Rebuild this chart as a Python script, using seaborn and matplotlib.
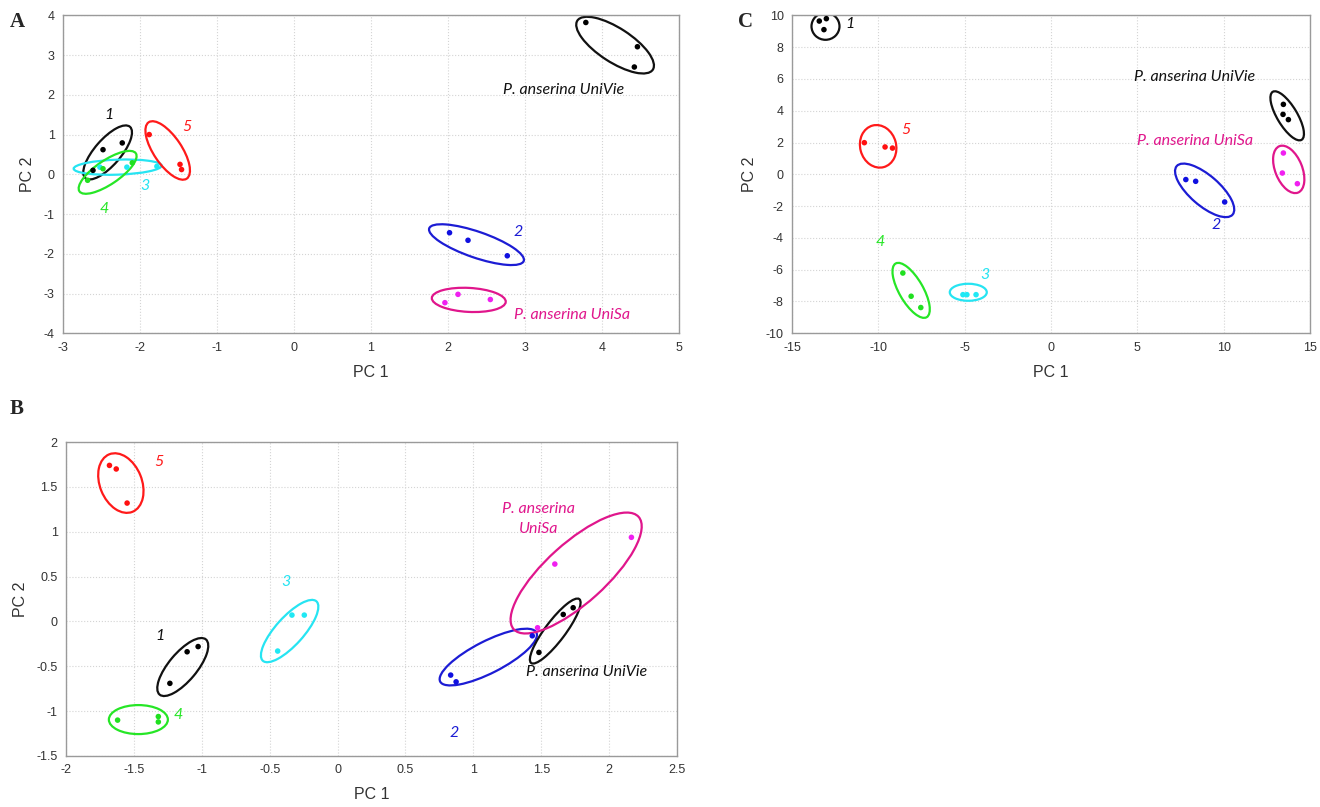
import pandas as pd
import numpy as np
import matplotlib
matplotlib.use("Agg")
import matplotlib.pyplot as plt
import matplotlib.transforms as mtransforms
from matplotlib.patches import Ellipse
import seaborn as sns

# groups in plotting order (3 replicates each)
groups = ['1', '2', '3', '4', '5', 'UniVie', 'UniSa']

# panel A scores
a_pc1 = [-2.48, -2.23, -2.61,  2.02, 2.26, 2.77,  -2.52, -2.17, -1.78,
         -2.68, -2.48, -2.10,  -1.88, -1.48, -1.46,  3.79, 4.46, 4.42,
         1.96, 2.13, 2.55]
a_pc2 = [0.62, 0.79, 0.10,  -1.47, -1.66, -2.05,  0.18, 0.18, 0.20,
         -0.15, 0.14, 0.29,  1.00, 0.25, 0.12,  3.82, 3.21, 2.70,
         -3.23, -3.02, -3.15]

# panel B scores
b_pc1 = [-1.108, -1.027, -1.235,  0.833, 0.873, 1.434,  -0.336, -0.245, -0.441,
         -1.62, -1.32, -1.32,  -1.68, -1.63, -1.55,  1.735, 1.662, 1.483,
         2.164, 1.60, 1.473]
b_pc2 = [-0.338, -0.28, -0.69,  -0.598, -0.673, -0.16,  0.071, 0.071, -0.33,
         -1.10, -1.06, -1.12,  1.74, 1.70, 1.32,  0.153, 0.078, -0.345,
         0.938, 0.64, -0.07]

# panel C scores
c_pc1 = [-13.42, -13.01, -13.15,  7.81, 8.38, 10.06,  -5.10, -4.87, -4.34,
         -8.58, -8.10, -7.54,  -10.81, -9.61, -9.18,  13.46, 13.44, 13.75,
         13.46, 13.40, 14.27]
c_pc2 = [9.64, 9.79, 9.10,  -0.33, -0.44, -1.74,  -7.57, -7.57, -7.57,
         -6.21, -7.67, -8.38,  1.99, 1.72, 1.65,  4.40, 3.77, 3.44,
         1.34, 0.08, -0.59]

# ellipse centres (data units) per group, same order as groups
a_ell_x = [-2.42, 2.37, -2.29, -2.42, -1.64, 4.17, 2.27]
a_ell_y = [0.55, -1.77, 0.18, 0.05, 0.60, 3.25, -3.16]
b_ell_x = [-1.14, 1.11, -0.353, -1.467, -1.596, 1.603, 1.757]
b_ell_y = [-0.508, -0.397, -0.107, -1.094, 1.543, -0.107, 0.54]
c_ell_x = [-13.06, 8.90, -4.79, -8.10, -10.01, 13.68, 13.77]
c_ell_y = [9.31, -1.01, -7.42, -7.30, 1.76, 3.68, 0.31]
# ellipse shape on screen: long axis, short axis (px), angle (deg)
a_ell_shape = [(68, 26, 49), (100, 26, -19), (88, 15, 2), (68, 24, 34),
               (68, 28, -56), (90, 34, -33), (74, 24, -3)]
b_ell_shape = [(72, 28, 50), (108, 32, 27), (80, 28, 48), (59, 29, 0),
               (62, 42, -68), (80, 20, 53), (168, 60, 42)]
c_ell_shape = [(28, 27, 0), (74, 30, -41), (37, 17, 0), (62, 24, -60),
               (43, 36, -75), (56, 20, -59), (50, 27, -68)]

# group labels: text, x, y, horizontal alignment
a_labels = [('1', -2.40, 1.48, 'center'), ('5', -1.39, 1.18, 'center'),
            ('3', -1.94, -0.30, 'center'), ('4', -2.47, -0.88, 'center'),
            ('2', 2.91, -1.46, 'center'),
            ('P. anserina UniSa', 2.86, -3.55, 'left'),
            ('P. anserina UniVie', 2.71, 2.11, 'left')]
b_labels = [('5', -1.316, 1.777, 'center'), ('3', -0.382, 0.44, 'center'),
            ('1', -1.309, -0.163, 'center'), ('4', -1.176, -1.043, 'center'),
            ('2', 0.86, -1.244, 'center'),
            ('P. anserina\nUniSa', 1.478, 1.142, 'center'),
            ('P. anserina UniVie', 1.39, -0.564, 'left')]
c_labels = [('1', -11.64, 9.43, 'center'), ('5', -8.39, 2.77, 'center'),
            ('2', 9.54, -3.21, 'center'), ('4', -9.90, -4.28, 'center'),
            ('3', -3.81, -6.35, 'center'),
            ('P. anserina UniVie', 4.78, 6.10, 'left'),
            ('P. anserina UniSa', 5.01, 2.08, 'left')]

line_col = {'1': '#111111', '2': '#1c1cd4', '3': '#26e4f2', '4': '#26e626',
            '5': '#ff1a1a', 'UniVie': '#111111', 'UniSa': '#e0168c'}
dot_col = {'1': '#000000', '2': '#1010e0', '3': '#20e8f4', '4': '#20e020',
           '5': '#ff1010', 'UniVie': '#000000', 'UniSa': '#f020f0'}
label_col = {'1': '#111111', '2': '#1c1cd4', '3': '#26e4f2', '4': '#26e626',
             '5': '#ff1a1a', 'P. anserina UniVie': '#111111',
             'P. anserina UniSa': '#e0168c', 'P. anserina\nUniSa': '#e0168c'}

sns.set_theme(style="white")
plt.rcParams['font.family'] = ['Liberation Sans', 'DejaVu Sans']

fig = plt.figure(figsize=(13.2, 8.07), dpi=100)


def panel(rect, pc1, pc2, ell_x, ell_y, ell_shape, labels,
          xlim, ylim, xticks, yticks, letter, letter_pos):
    ax = fig.add_axes(rect)
    grp = [g for g in groups for _ in range(3)]
    df = pd.DataFrame({'PC 1': pc1, 'PC 2': pc2, 'group': grp})
    sns.scatterplot(data=df, x='PC 1', y='PC 2', hue='group', palette=dot_col,
                    s=16, linewidth=0, legend=False, ax=ax, zorder=3)
    ax.set_xlim(*xlim)
    ax.set_ylim(*ylim)
    ax.set_xticks(xticks)
    ax.set_yticks(yticks)
    ax.set_xticklabels([f'{t:g}' for t in xticks])
    ax.set_yticklabels([f'{t:g}' for t in yticks])
    ax.grid(True, color='#d4d4d4', linestyle=':', linewidth=0.8)
    ax.tick_params(direction='in', length=4, labelsize=9, colors='#333333',
                   width=0.8, pad=6)
    for sp in ax.spines.values():
        sp.set_color('#9a9a9a')
        sp.set_linewidth(1.0)
    ax.set_xlabel('PC 1', fontsize=11.5, color='#333333', labelpad=8)
    ax.set_ylabel('PC 2', fontsize=11.5, color='#333333', labelpad=6)

    for g, cx, cy, (lng, sht, ang) in zip(groups, ell_x, ell_y, ell_shape):
        tr = fig.dpi_scale_trans + mtransforms.ScaledTranslation(cx, cy, ax.transData)
        ax.add_patch(Ellipse((0, 0), lng / 100, sht / 100, angle=ang,
                             transform=tr, fill=False, ec=line_col[g],
                             lw=1.6, zorder=2))

    for txt, tx, ty, ha in labels:
        ax.text(tx, ty, txt, ha=ha, va='center', fontsize=11.5,
                style='italic', color=label_col[txt],
                family=['Lato', 'DejaVu Sans'], linespacing=1.5)

    fig.text(letter_pos[0], letter_pos[1], letter, fontsize=15,
             fontweight='bold', family=['Liberation Serif'],
             ha='center', va='center')
    return ax


panel([0.0477, 0.587, 0.4667, 0.394], a_pc1, a_pc2, a_ell_x, a_ell_y,
      a_ell_shape, a_labels, (-3, 5), (-4, 4),
      list(range(-3, 6)), list(range(-4, 5)), 'A', (17 / 1320, 1 - 22 / 807))

panel([0.050, 0.0632, 0.4629, 0.389], b_pc1, b_pc2, b_ell_x, b_ell_y,
      b_ell_shape, b_labels, (-2, 2.5), (-1.5, 2),
      list(np.arange(-2, 2.51, 0.5)), list(np.arange(-1.5, 2.01, 0.5)),
      'B', (17 / 1320, 1 - 409 / 807))

panel([0.600, 0.587, 0.3924, 0.394], c_pc1, c_pc2, c_ell_x, c_ell_y,
      c_ell_shape, c_labels, (-15, 15), (-10, 10),
      list(range(-15, 16, 5)), list(range(-10, 11, 2)),
      'C', (745 / 1320, 1 - 22 / 807))

fig.savefig('out.png', dpi=100)
